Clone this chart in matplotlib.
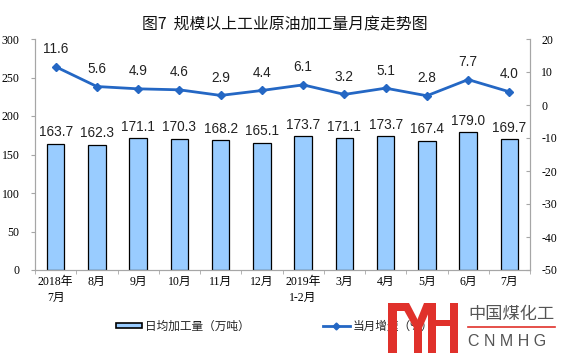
import matplotlib
matplotlib.use("Agg")
import matplotlib.pyplot as plt
import numpy as np
from matplotlib.patches import Rectangle, Polygon

plt.rcParams["font.family"] = ["Noto Sans CJK SC", "DejaVu Sans"]

# ── data ──────────────────────────────────────────────────────────────────────
MONTHS = ["2018年\n7月", "8月", "9月", "10月", "11月", "12月",
          "2019年\n1-2月", "3月", "4月", "5月", "6月", "7月"]
DAILY = [163.7, 162.3, 171.1, 170.3, 168.2, 165.1,
         173.7, 171.1, 173.7, 167.4, 179.0, 169.7]
GROWTH = [11.6, 5.6, 4.9, 4.6, 2.9, 4.4, 6.1, 3.2, 5.1, 2.8, 7.7, 4.0]
LEFT_TICKS = [0, 50, 100, 150, 200, 250, 300]
RIGHT_TICKS = [-50, -40, -30, -20, -10, 0, 10, 20]

C_BAR = "#99CCFF"
C_LINE = "#2467C4"
C_AXIS = "#A6A6A6"
SERIF = ["Liberation Serif", "Noto Sans CJK SC"]

fig = plt.figure(figsize=(5.61, 3.57), dpi=100, facecolor="white")
ax = fig.add_axes([35 / 561, 1 - 270 / 357, 495 / 561, 231 / 357])
ax2 = ax.twinx()

x = np.arange(len(MONTHS))
ax.bar(x, DAILY, width=0.42, color=C_BAR, edgecolor="black", linewidth=0.9, zorder=2)
for xi, v in zip(x, DAILY):
    ax.text(xi, v + 6, f"{v:.1f}", ha="center", va="bottom", fontsize=9.8,
            family="Liberation Sans", color="#222222")

ax.set_xlim(-0.5, len(MONTHS) - 0.5)
ax.set_ylim(0, 300)
ax.set_yticks(LEFT_TICKS)
ax.set_yticklabels([str(t) for t in LEFT_TICKS], family="Liberation Serif", fontsize=8.5)
ax.set_xticks(x)
ax.set_xticklabels(MONTHS, family=SERIF, fontsize=8.5, linespacing=1.45)
ax.set_xticks(np.arange(-0.5, len(MONTHS), 1), minor=True)
ax.tick_params(axis="x", which="major", length=0, pad=4)
ax.tick_params(axis="x", which="minor", length=3, color=C_AXIS, direction="out")
ax.tick_params(axis="y", length=3, color=C_AXIS, pad=8)

ax2.plot(x, GROWTH, color=C_LINE, linewidth=2, marker="D", markersize=4, zorder=3)
for xi, v in zip(x, GROWTH):
    ax2.text(xi, v + 3.2, f"{v:.1f}", ha="center", va="bottom", fontsize=9.8,
             family="Liberation Sans", color="#222222")
ax2.set_ylim(-50, 20)
ax2.set_yticks(RIGHT_TICKS)
ax2.set_yticklabels([str(t) for t in RIGHT_TICKS], family="Liberation Serif", fontsize=8.5)
ax2.tick_params(axis="y", length=3, color=C_AXIS, direction="in", pad=8)

for a in (ax, ax2):
    a.spines["top"].set_visible(False)
    for s in ("left", "right", "bottom"):
        a.spines[s].set_color(C_AXIS)
        a.spines[s].set_linewidth(0.8)

fig.text(285 / 561, 1 - 25 / 357, "图7  规模以上工业原油加工量月度走势图",
         ha="center", va="center", fontsize=11.4, color="#111111")

# ── legend ────────────────────────────────────────────────────────────────────
lx = fig.add_axes([0, 0, 1, 1], facecolor="none")
lx.set_xlim(0, 561)
lx.set_ylim(357, 0)
lx.set_axis_off()
lx.add_patch(Rectangle((116, 323), 26, 5, facecolor=C_BAR, edgecolor="black", linewidth=1.2))
lx.text(145, 326, "日均加工量（万吨）", ha="left", va="center", fontsize=8.4, color="#222222")
lx.plot([323, 350], [326, 326], color=C_LINE, linewidth=2)
lx.plot([336], [326], marker="D", markersize=3.5, color=C_LINE)
lx.text(353, 326, "当月增速（%）", ha="left", va="center", fontsize=8.4, color="#222222")

# ── watermark ─────────────────────────────────────────────────────────────────
C_RED = "#E0312B"
for (rx, ry, rw, rh) in [(388, 303, 9, 50), (388, 303, 18, 8), (414, 326, 8, 27),
                         (428, 303, 8, 50), (436, 320, 14, 6), (450, 303, 8, 50)]:
    lx.add_patch(Rectangle((rx, ry), rw, rh, facecolor=C_RED, edgecolor="none", zorder=5))
lx.add_patch(Polygon([(400, 303), (409, 303), (422, 328), (414, 328)],
                     facecolor=C_RED, edgecolor="none", zorder=5))
lx.add_patch(Polygon([(424, 303), (433, 303), (422, 328), (414, 328)],
                     facecolor=C_RED, edgecolor="none", zorder=5))
lx.text(468, 314, "中国煤化工", ha="left", va="center", fontsize=12.4, color="#555555")
lx.plot([468, 555], [327, 327], color=C_RED, linewidth=1.2)
lx.text(468, 341, "C N M H G", ha="left", va="center", fontsize=11.5, color="#555555",
        family="Liberation Sans")

fig.savefig("out.png", dpi=100, facecolor="white")
